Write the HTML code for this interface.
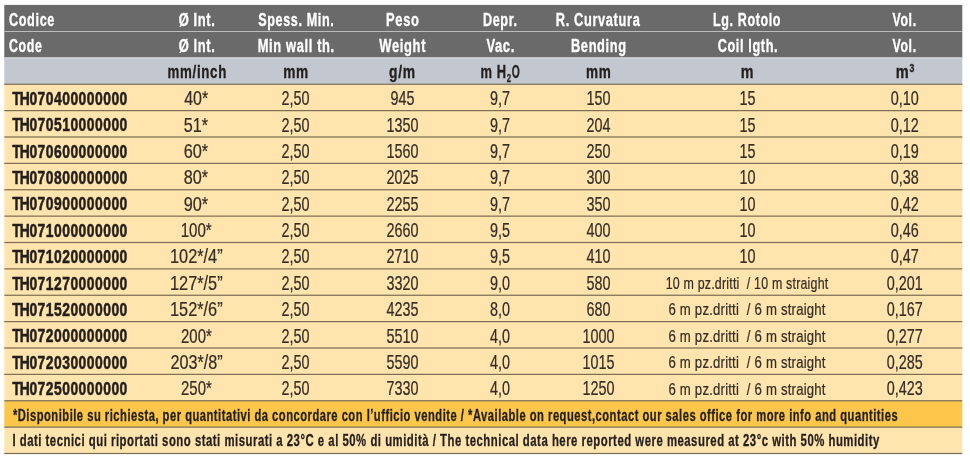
<!DOCTYPE html>
<html lang="it">
<head>
<meta charset="utf-8">
<title>Tabella dati tecnici</title>
<style>
html,body{margin:0;padding:0;background:#ffffff;}
body{width:970px;height:463px;overflow:hidden;}
svg{display:block;}
text{font-family:"Liberation Sans", "DejaVu Sans", sans-serif;white-space:pre;fill:#231f1c;stroke:#231f1c;vector-effect:non-scaling-stroke;stroke-linejoin:round;}
text.h,text.u,text.c,text.n{font-weight:700;font-size:18.7px;stroke-width:0.3px;}
text.h{fill:#ffffff;stroke:#ffffff;}
text.u{font-size:18.6px;}
text.h,text.u{letter-spacing:0.05em;}
text.c{letter-spacing:0.035em;stroke-width:0.5px;font-size:18.7px;}
text.n{font-size:15.6px;stroke-width:0.25px;letter-spacing:0.045em;}
text.d,text.l{font-weight:400;font-size:20.2px;stroke-width:0.2px;fill:#322d26;stroke:#322d26;}
text.l{font-size:16.9px;letter-spacing:0.015em;}
</style>
</head>
<body>
<svg width="970" height="463" viewBox="0 0 970 463" xml:space="preserve">
<rect x="4.30" y="4.90" width="958.00" height="52.30" fill="#6a6a6a"/>
<rect x="4.30" y="57.00" width="958.00" height="27.25" fill="#c3c7d0"/>
<rect x="4.30" y="57.00" width="958.00" height="1.00" fill="#c2c2c4"/>
<rect x="4.30" y="58.00" width="958.00" height="1.00" fill="#ced1d8"/>
<rect x="4.30" y="84.25" width="958.00" height="316.50" fill="#ffe4ad"/>
<rect x="4.30" y="400.75" width="958.00" height="26.38" fill="#fbc649"/>
<rect x="4.30" y="427.12" width="958.00" height="26.38" fill="#ffe4ad"/>
<rect x="4.30" y="31.00" width="958.00" height="1.00" fill="#bcbcbc"/>
<rect x="4.30" y="83.65" width="958.00" height="1.20" fill="#786c54"/>
<rect x="4.30" y="110.03" width="958.00" height="1.20" fill="#786c54"/>
<rect x="4.30" y="136.40" width="958.00" height="1.20" fill="#786c54"/>
<rect x="4.30" y="162.78" width="958.00" height="1.20" fill="#786c54"/>
<rect x="4.30" y="189.15" width="958.00" height="1.20" fill="#786c54"/>
<rect x="4.30" y="215.53" width="958.00" height="1.20" fill="#786c54"/>
<rect x="4.30" y="241.90" width="958.00" height="1.20" fill="#786c54"/>
<rect x="4.30" y="268.27" width="958.00" height="1.20" fill="#786c54"/>
<rect x="4.30" y="294.65" width="958.00" height="1.20" fill="#786c54"/>
<rect x="4.30" y="321.02" width="958.00" height="1.20" fill="#786c54"/>
<rect x="4.30" y="347.40" width="958.00" height="1.20" fill="#786c54"/>
<rect x="4.30" y="373.77" width="958.00" height="1.20" fill="#786c54"/>
<rect x="4.30" y="400.15" width="958.00" height="1.20" fill="#786c54"/>
<rect x="4.30" y="426.52" width="958.00" height="1.20" fill="#786c54"/>
<rect x="4.30" y="452.90" width="958.00" height="1.20" fill="#786c54"/>
<text class="h" transform="translate(8.94 25.80) scale(0.6779 1)">Codice</text>
<text class="h" transform="translate(178.63 25.80) scale(0.6919 1)">Ø Int.</text>
<text class="h" transform="translate(258.20 25.80) scale(0.6736 1)">Spess. Min.</text>
<text class="h" transform="translate(386.08 25.80) scale(0.6920 1)">Peso</text>
<text class="h" transform="translate(482.89 25.80) scale(0.6774 1)">Depr.</text>
<text class="h" transform="translate(555.78 25.80) scale(0.6863 1)">R. Curvatura</text>
<text class="h" transform="translate(713.00 25.80) scale(0.6696 1)">Lg. Rotolo</text>
<text class="h" transform="translate(892.56 25.80) scale(0.6586 1)">Vol.</text>
<text class="h" transform="translate(8.95 51.65) scale(0.6642 1)">Code</text>
<text class="h" transform="translate(178.63 51.65) scale(0.6919 1)">Ø Int.</text>
<text class="h" transform="translate(257.68 51.65) scale(0.6892 1)">Min wall th.</text>
<text class="h" transform="translate(379.35 51.65) scale(0.6924 1)">Weight</text>
<text class="h" transform="translate(486.45 51.65) scale(0.6923 1)">Vac.</text>
<text class="h" transform="translate(570.98 51.65) scale(0.6854 1)">Bending</text>
<text class="h" transform="translate(717.64 51.65) scale(0.6784 1)">Coil lgth.</text>
<text class="h" transform="translate(892.56 51.65) scale(0.6586 1)">Vol.</text>
<text class="u" transform="translate(167.58 77.90) scale(0.7162 1)">mm/inch</text>
<text class="u" transform="translate(283.21 77.90) scale(0.7361 1)">mm</text>
<text class="u" transform="translate(389.00 77.90) scale(0.7446 1)">g/m</text>
<text class="u" transform="translate(586.07 77.90) scale(0.7298 1)">mm</text>
<text class="u" transform="translate(740.72 77.90) scale(0.7686 1)">m</text>
<text class="u" transform="translate(480.41 77.90) scale(0.6941 1)">m H<tspan style="font-size:11.16px" dy="3.60">2</tspan><tspan dy="-3.60" textLength="12.32" lengthAdjust="spacingAndGlyphs">O</tspan></text>
<text class="u" transform="translate(895.80 77.90) scale(0.7841 1)">m<tspan style="font-size:11.16px" dy="-5.60">3</tspan></text>
<text class="c" transform="scale(0.7418 1)" x="16.46 26.78 39.62 50.68 61.73 72.79 83.84 94.90 105.95 117.01 128.06 139.12 150.17 161.23" y="104.95">TH070400000000</text>
<text class="d" transform="translate(184.14 105.15) scale(0.7921 1)">40*</text>
<text class="d" transform="translate(281.48 105.15) scale(0.7130 1)">2,50</text>
<text class="d" transform="translate(390.58 105.15) scale(0.7130 1)">945</text>
<text class="d" transform="translate(490.09 105.15) scale(0.7130 1)">9,7</text>
<text class="d" transform="translate(586.48 105.15) scale(0.7130 1)">150</text>
<text class="d" transform="translate(739.39 105.15) scale(0.7130 1)">15</text>
<text class="d" transform="translate(890.68 105.15) scale(0.7130 1)">0,10</text>
<text class="c" transform="scale(0.7418 1)" x="16.46 26.78 39.62 50.68 61.73 72.79 83.84 94.90 105.95 117.01 128.06 139.12 150.17 161.23" y="131.33">TH070510000000</text>
<text class="d" transform="translate(183.85 131.53) scale(0.8017 1)">51*</text>
<text class="d" transform="translate(281.48 131.53) scale(0.7130 1)">2,50</text>
<text class="d" transform="translate(386.58 131.53) scale(0.7130 1)">1350</text>
<text class="d" transform="translate(490.09 131.53) scale(0.7130 1)">9,7</text>
<text class="d" transform="translate(586.48 131.53) scale(0.7130 1)">204</text>
<text class="d" transform="translate(739.39 131.53) scale(0.7130 1)">15</text>
<text class="d" transform="translate(890.68 131.53) scale(0.7130 1)">0,12</text>
<text class="c" transform="scale(0.7418 1)" x="16.46 26.78 39.62 50.68 61.73 72.79 83.84 94.90 105.95 117.01 128.06 139.12 150.17 161.23" y="157.70">TH070600000000</text>
<text class="d" transform="translate(183.68 157.90) scale(0.8073 1)">60*</text>
<text class="d" transform="translate(281.48 157.90) scale(0.7130 1)">2,50</text>
<text class="d" transform="translate(386.58 157.90) scale(0.7130 1)">1560</text>
<text class="d" transform="translate(490.09 157.90) scale(0.7130 1)">9,7</text>
<text class="d" transform="translate(586.48 157.90) scale(0.7130 1)">250</text>
<text class="d" transform="translate(739.39 157.90) scale(0.7130 1)">15</text>
<text class="d" transform="translate(890.68 157.90) scale(0.7130 1)">0,19</text>
<text class="c" transform="scale(0.7418 1)" x="16.46 26.78 39.62 50.68 61.73 72.79 83.84 94.90 105.95 117.01 128.06 139.12 150.17 161.23" y="184.08">TH070800000000</text>
<text class="d" transform="translate(183.81 184.28) scale(0.8031 1)">80*</text>
<text class="d" transform="translate(281.48 184.28) scale(0.7130 1)">2,50</text>
<text class="d" transform="translate(386.58 184.28) scale(0.7130 1)">2025</text>
<text class="d" transform="translate(490.09 184.28) scale(0.7130 1)">9,7</text>
<text class="d" transform="translate(586.48 184.28) scale(0.7130 1)">300</text>
<text class="d" transform="translate(739.39 184.28) scale(0.7130 1)">10</text>
<text class="d" transform="translate(890.68 184.28) scale(0.7130 1)">0,38</text>
<text class="c" transform="scale(0.7418 1)" x="16.46 26.78 39.62 50.68 61.73 72.79 83.84 94.90 105.95 117.01 128.06 139.12 150.17 161.23" y="210.45">TH070900000000</text>
<text class="d" transform="translate(183.73 210.65) scale(0.8059 1)">90*</text>
<text class="d" transform="translate(281.48 210.65) scale(0.7130 1)">2,50</text>
<text class="d" transform="translate(386.58 210.65) scale(0.7130 1)">2255</text>
<text class="d" transform="translate(490.09 210.65) scale(0.7130 1)">9,7</text>
<text class="d" transform="translate(586.48 210.65) scale(0.7130 1)">350</text>
<text class="d" transform="translate(739.39 210.65) scale(0.7130 1)">10</text>
<text class="d" transform="translate(890.68 210.65) scale(0.7130 1)">0,42</text>
<text class="c" transform="scale(0.7418 1)" x="16.46 26.78 39.62 50.68 61.73 72.79 83.84 94.90 105.95 117.01 128.06 139.12 150.17 161.23" y="236.83">TH071000000000</text>
<text class="d" transform="translate(180.67 237.03) scale(0.7482 1)">100*</text>
<text class="d" transform="translate(281.48 237.03) scale(0.7130 1)">2,50</text>
<text class="d" transform="translate(386.58 237.03) scale(0.7130 1)">2660</text>
<text class="d" transform="translate(490.09 237.03) scale(0.7130 1)">9,5</text>
<text class="d" transform="translate(586.48 237.03) scale(0.7130 1)">400</text>
<text class="d" transform="translate(739.39 237.03) scale(0.7130 1)">10</text>
<text class="d" transform="translate(890.68 237.03) scale(0.7130 1)">0,46</text>
<text class="c" transform="scale(0.7418 1)" x="16.46 26.78 39.62 50.68 61.73 72.79 83.84 94.90 105.95 117.01 128.06 139.12 150.17 161.23" y="263.20">TH071020000000</text>
<text class="d" transform="translate(169.97 263.40) scale(0.8089 1)">102*/4”</text>
<text class="d" transform="translate(281.48 263.40) scale(0.7130 1)">2,50</text>
<text class="d" transform="translate(386.58 263.40) scale(0.7130 1)">2710</text>
<text class="d" transform="translate(490.09 263.40) scale(0.7130 1)">9,5</text>
<text class="d" transform="translate(586.48 263.40) scale(0.7130 1)">410</text>
<text class="d" transform="translate(739.39 263.40) scale(0.7130 1)">10</text>
<text class="d" transform="translate(890.68 263.40) scale(0.7130 1)">0,47</text>
<text class="c" transform="scale(0.7418 1)" x="16.46 26.78 39.62 50.68 61.73 72.79 83.84 94.90 105.95 117.01 128.06 139.12 150.17 161.23" y="289.57">TH071270000000</text>
<text class="d" transform="translate(169.97 289.77) scale(0.8089 1)">127*/5”</text>
<text class="d" transform="translate(281.48 289.77) scale(0.7130 1)">2,50</text>
<text class="d" transform="translate(386.58 289.77) scale(0.7130 1)">3320</text>
<text class="d" transform="translate(490.09 289.77) scale(0.7130 1)">9,0</text>
<text class="d" transform="translate(586.48 289.77) scale(0.7130 1)">580</text>
<text class="l" transform="translate(665.67 289.02) scale(0.7369 1)">10 m pz.dritti  / 10 m straight</text>
<text class="d" transform="translate(886.68 289.77) scale(0.7130 1)">0,201</text>
<text class="c" transform="scale(0.7418 1)" x="16.46 26.78 39.62 50.68 61.73 72.79 83.84 94.90 105.95 117.01 128.06 139.12 150.17 161.23" y="315.95">TH071520000000</text>
<text class="d" transform="translate(169.97 316.15) scale(0.8089 1)">152*/6”</text>
<text class="d" transform="translate(281.48 316.15) scale(0.7130 1)">2,50</text>
<text class="d" transform="translate(386.58 316.15) scale(0.7130 1)">4235</text>
<text class="d" transform="translate(490.09 316.15) scale(0.7130 1)">8,0</text>
<text class="d" transform="translate(586.48 316.15) scale(0.7130 1)">680</text>
<text class="l" transform="translate(668.44 315.40) scale(0.7804 1)">6 m pz.dritti  / 6 m straight</text>
<text class="d" transform="translate(886.68 316.15) scale(0.7130 1)">0,167</text>
<text class="c" transform="scale(0.7418 1)" x="16.46 26.78 39.62 50.68 61.73 72.79 83.84 94.90 105.95 117.01 128.06 139.12 150.17 161.23" y="342.32">TH072000000000</text>
<text class="d" transform="translate(181.05 342.52) scale(0.7388 1)">200*</text>
<text class="d" transform="translate(281.48 342.52) scale(0.7130 1)">2,50</text>
<text class="d" transform="translate(386.58 342.52) scale(0.7130 1)">5510</text>
<text class="d" transform="translate(490.09 342.52) scale(0.7130 1)">4,0</text>
<text class="d" transform="translate(582.48 342.52) scale(0.7130 1)">1000</text>
<text class="l" transform="translate(668.44 341.77) scale(0.7804 1)">6 m pz.dritti  / 6 m straight</text>
<text class="d" transform="translate(886.68 342.52) scale(0.7130 1)">0,277</text>
<text class="c" transform="scale(0.7418 1)" x="16.46 26.78 39.62 50.68 61.73 72.79 83.84 94.90 105.95 117.01 128.06 139.12 150.17 161.23" y="368.70">TH072030000000</text>
<text class="d" transform="translate(170.39 368.90) scale(0.8025 1)">203*/8”</text>
<text class="d" transform="translate(281.48 368.90) scale(0.7130 1)">2,50</text>
<text class="d" transform="translate(386.58 368.90) scale(0.7130 1)">5590</text>
<text class="d" transform="translate(490.09 368.90) scale(0.7130 1)">4,0</text>
<text class="d" transform="translate(582.48 368.90) scale(0.7130 1)">1015</text>
<text class="l" transform="translate(668.44 368.15) scale(0.7804 1)">6 m pz.dritti  / 6 m straight</text>
<text class="d" transform="translate(886.68 368.90) scale(0.7130 1)">0,285</text>
<text class="c" transform="scale(0.7418 1)" x="16.46 26.78 39.62 50.68 61.73 72.79 83.84 94.90 105.95 117.01 128.06 139.12 150.17 161.23" y="395.07">TH072500000000</text>
<text class="d" transform="translate(181.05 395.27) scale(0.7388 1)">250*</text>
<text class="d" transform="translate(281.48 395.27) scale(0.7130 1)">2,50</text>
<text class="d" transform="translate(386.58 395.27) scale(0.7130 1)">7330</text>
<text class="d" transform="translate(490.09 395.27) scale(0.7130 1)">4,0</text>
<text class="d" transform="translate(582.48 395.27) scale(0.7130 1)">1250</text>
<text class="l" transform="translate(668.44 394.52) scale(0.7804 1)">6 m pz.dritti  / 6 m straight</text>
<text class="d" transform="translate(886.68 395.27) scale(0.7130 1)">0,423</text>
<text class="n" transform="translate(12.92 420.60) scale(0.7176 1)">*Disponibile su richiesta, per quantitativi da concordare con l’ufficio vendite / *Available on request,contact our sales office for more info and quantities</text>
<text class="n" transform="translate(12.38 446.42) scale(0.7283 1)">I dati tecnici qui riportati sono stati misurati a 23°C e al 50% di umidità / The technical data here reported were measured at 23°c with 50% humidity</text>
</svg>
</body>
</html>
